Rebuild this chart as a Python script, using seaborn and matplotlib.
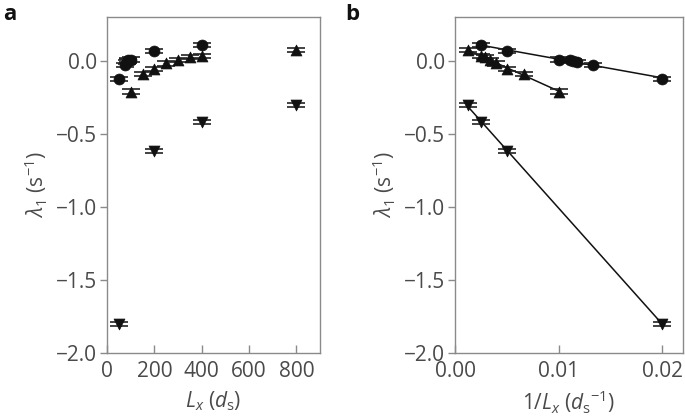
import numpy as np
import pandas as pd
import matplotlib
matplotlib.use("Agg")
import matplotlib.pyplot as plt
import seaborn as sns

# ---- data ----
circle_Lx = [50, 75, 85, 88, 90, 100, 200, 400]
circle_lam = [-0.123, -0.027, -0.011, -0.002, 0.005, 0.009, 0.068, 0.107]

up_Lx = [100, 150, 200, 250, 300, 350, 400, 800]
up_lam = [-0.21, -0.088, -0.057, -0.018, 0.005, 0.025, 0.032, 0.075]

down_Lx = [50, 200, 400, 800]
down_lam = [-1.80, -0.62, -0.42, -0.30]

err = 0.014
yticks = [-2.0, -1.5, -1.0, -0.5, 0.0]
xticks_a = [0, 200, 400, 600, 800]
xticks_b = [0.00, 0.01, 0.02]

series = [
    ("circle", circle_Lx, circle_lam, "o"),
    ("up", up_Lx, up_lam, "^"),
    ("down", down_Lx, down_lam, "v"),
]

frames = []
for name, lx, lam, m in series:
    frames.append(pd.DataFrame({"series": name, "Lx": lx, "lam": lam,
                                "invLx": 1.0 / np.array(lx, dtype=float)}))
df = pd.concat(frames, ignore_index=True)

sns.set_style("ticks")
plt.rcParams["font.family"] = ["Open Sans", "DejaVu Sans"]
plt.rcParams["mathtext.fontset"] = "custom"
plt.rcParams["mathtext.rm"] = "Open Sans"
plt.rcParams["mathtext.it"] = "Open Sans:italic"
plt.rcParams["axes.unicode_minus"] = True

fig = plt.figure(figsize=(6.85, 4.2), dpi=100)
axA = fig.add_axes([107 / 685, 67 / 420, 213 / 685, 336 / 420])
axB = fig.add_axes([455 / 685, 67 / 420, 228 / 685, 336 / 420])

spine_col = "#8a8a8a"
text_col = "#4a4a4a"
fs = 15
markers = {"circle": "o", "up": "^", "down": "v"}

for ax, xcol in [(axA, "Lx"), (axB, "invLx")]:
    for name, lx, lam, m in series:
        sub = df[df.series == name]
        if ax is axB:
            sns.regplot(data=sub, x=xcol, y="lam", ax=ax, scatter=False, ci=None,
                        truncate=True, color="#111111", line_kws={"lw": 1.1, "zorder": 1})
        ax.errorbar(sub[xcol], sub["lam"], yerr=err, fmt="none", ecolor="#222222",
                    elinewidth=1.0, capsize=6.5, capthick=1.2, zorder=2)
        sns.scatterplot(data=sub, x=xcol, y="lam", ax=ax, marker=markers[name],
                        color="#111111", s=62, edgecolor="#111111", linewidth=0.5,
                        zorder=3, legend=False)
    ax.set_ylim(-2.0, 0.3)
    ax.set_yticks(yticks)
    ax.set_yticklabels([f"{v:.1f}".replace("-", "\u2212") for v in yticks])
    for s in ax.spines.values():
        s.set_color(spine_col)
        s.set_linewidth(1.0)
    ax.tick_params(axis="y", direction="out", length=5, width=1, color=spine_col,
                   labelsize=fs, labelcolor=text_col, pad=2)
    ax.tick_params(axis="x", direction="in", length=6, width=1, color=spine_col,
                   labelsize=fs, labelcolor=text_col, pad=6)
    ax.set_ylabel(r"$\lambda_1$ (s$^{-1}$)", fontsize=fs, color=text_col, labelpad=4)

axA.set_xlim(0, 900)
axA.set_xticks(xticks_a)
axA.set_xlabel(r"$L_x$ ($d_\mathrm{s}$)", fontsize=fs, color=text_col, labelpad=5)

axB.set_xlim(0, 0.022)
axB.set_xticks(xticks_b)
axB.set_xticklabels([f"{v:.2f}" for v in xticks_b])
axB.set_xlabel(r"1/$L_x$ ($d_\mathrm{s}$$^{-1}$)", fontsize=fs, color=text_col, labelpad=5)

fig.text(3 / 685, 1 - 20 / 420, "a", fontsize=16, fontweight="bold", color="#111111")
fig.text(345 / 685, 1 - 20 / 420, "b", fontsize=16, fontweight="bold", color="#111111")

fig.savefig("out.png", dpi=100)
